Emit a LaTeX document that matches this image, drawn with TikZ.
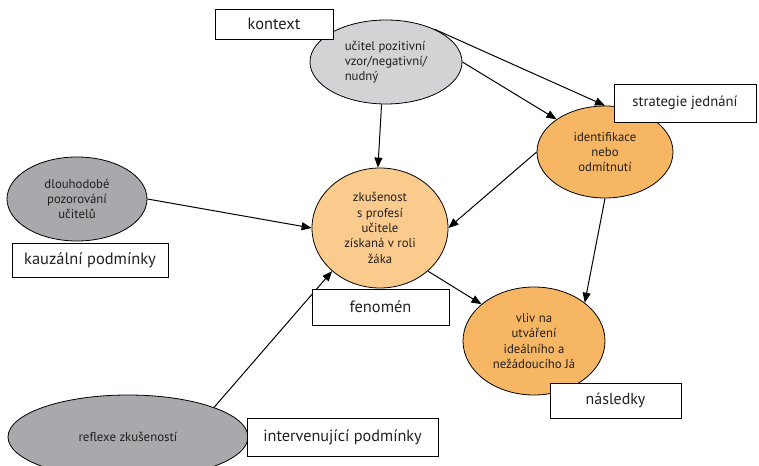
\documentclass[tikz,border=0pt]{standalone}
\usepackage{fontspec}
\setmainfont{PT Sans}
\usetikzlibrary{shapes.geometric,arrows.meta}
\definecolor{lightgrey}{HTML}{D1D3D4}
\definecolor{darkgrey}{HTML}{A7A9AC}
\definecolor{paleorange}{HTML}{FBCB8E}
\definecolor{deeporange}{HTML}{F6B664}
\definecolor{ink}{HTML}{231F20}
\tikzset{
  oval/.style={ellipse, draw=black, line width=0.8bp, inner sep=0pt, align=center,
    text=ink, font=\fontsize{12.8}{15.4}\selectfont},
  labelbox/.style={rectangle, draw=black, line width=0.8bp, fill=white, inner sep=0pt,
    text=ink},
  link/.style={line width=1bp, -{Triangle[length=10bp,width=8bp]}}
}
\begin{document}
\begin{tikzpicture}[x=1bp, y=-1bp]
\useasboundingbox (0,0) rectangle (759,466);
\clip (0,0) rectangle (759,466);

% ovals
\node[oval, fill=lightgrey, minimum width=152bp, minimum height=84bp, align=left]
  (teacher) at (386,62) {učitel pozitivní\\vzor/negativní/\\nudný};
\node[oval, fill=deeporange, minimum width=136bp, minimum height=92bp]
  (ident) at (605,152) {identifikace\\nebo\\odmítnutí};
\node[oval, fill=paleorange, minimum width=136bp, minimum height=120bp]
  (exper) at (380,228) {zkušenost\\s profesí\\učitele\\získaná v roli\\žáka};
\node[oval, fill=deeporange, minimum width=142bp, minimum height=108bp]
  (impact) at (534,341) {vliv na\\utváření\\ideálního a\\nežádoucího Já};
\node[oval, fill=darkgrey, minimum width=140bp, minimum height=84bp]
  (observ) at (77,199) {dlouhodobé\\pozorování\\učitelů};
\node[oval, fill=darkgrey, minimum width=240bp, minimum height=84bp, font=\fontsize{12.9}{15}\selectfont]
  (reflex) at (128,437) {reflexe zkušeností};

% connectors
\draw[link] (teacher.-96) -- (exper.92);
\draw[link] (teacher.34) -- (ident.90);
\draw[link] (teacher.0) -- (ident.146);
\draw[link] (ident.180) -- (exper.0);
\draw[link] (ident.-90) -- (impact.37);
\draw[link] (observ.0) -- (exper.180);
\draw[link] (exper.-42) -- (impact.145);
\draw[link] (reflex.19) -- (exper.-138);

% category boxes
\node[labelbox, minimum width=118bp, minimum height=30bp, font=\fontsize{16.5}{19}\selectfont]
  (ctx) at (274,24) {kontext};
\node[labelbox, minimum width=142bp, minimum height=38bp, font=\fontsize{14.7}{17}\selectfont]
  (strat) at (685,103) {strategie jednání};
\node[labelbox, minimum width=156bp, minimum height=34bp, font=\fontsize{16.5}{19}\selectfont]
  (causal) at (90,260) {kauzální podmínky};
\node[labelbox, minimum width=137bp, minimum height=36bp, font=\fontsize{16.5}{19}\selectfont]
  (phen) at (380.5,307) {fenomén};
\node[labelbox, minimum width=131bp, minimum height=35bp, font=\fontsize{16}{19}\selectfont]
  (conseq) at (615.5,400.5) {následky};
\node[labelbox, minimum width=191bp, minimum height=38bp, font=\fontsize{16.3}{19}\selectfont]
  (interv) at (342.5,437) {intervenující podmínky};
\end{tikzpicture}
\end{document}
